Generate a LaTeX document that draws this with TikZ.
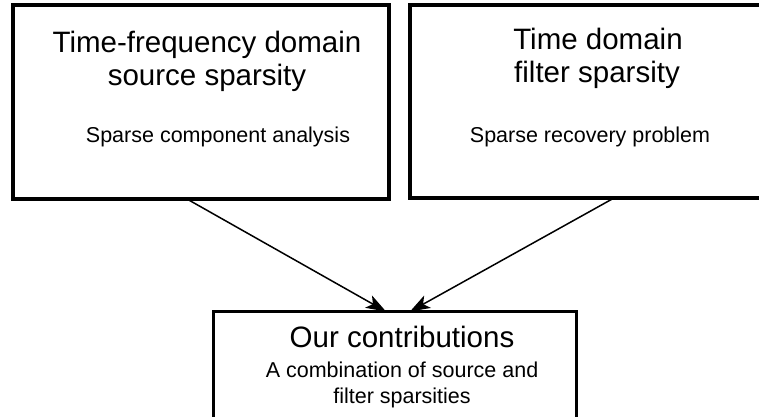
\documentclass[tikz,border=0pt]{standalone}
\usepackage{fontspec}
\setmainfont{Liberation Sans}
\usetikzlibrary{arrows.meta}
\begin{document}
\begin{tikzpicture}[x=1pt,y=-1pt,
  topbox/.style={draw, line width=4pt, inner sep=0pt, outer sep=0pt},
  botbox/.style={draw, line width=3pt, inner sep=0pt, outer sep=0pt},
  titletext/.style={anchor=base, inner sep=0pt, font=\fontsize{29.5}{34}\selectfont},
  subtext/.style={anchor=base, inner sep=0pt, font=\fontsize{21.5}{25}\selectfont},
  conn/.style={line width=1.5pt, -{Stealth[length=20pt,width=14pt,inset=5pt]}}]
\useasboundingbox (0,0) rectangle (759,416);
\clip (0,0) rectangle (759,416);
% boxes
\node[topbox, minimum width=375.5pt, minimum height=194pt] (lbox) at (200.75,102) {};
\node[topbox, minimum width=370pt, minimum height=193pt] (rbox) at (595,101.5) {};
\node[botbox, minimum width=363.5pt, minimum height=113pt] (bbox) at (394.75,368) {};
% texts
\node[titletext] (lt1) at (207,52) {Time-frequency domain};
\node[titletext] (lt2) at (207,85) {source sparsity};
\node[subtext] (ls) at (218,142) {Sparse component analysis};
\node[titletext] (rt1) at (598,49) {Time domain};
\node[titletext] (rt2) at (597,82) {filter sparsity};
\node[subtext] (rs) at (590,142) {Sparse recovery problem};
\node[titletext] (bt) at (402,347) {Our contributions};
\node[subtext] (bs1) at (402,377) {A combination of source and};
\node[subtext] (bs2) at (402,403) {filter sparsities};
% connectors
\draw[conn] ([xshift=-13.75pt]lbox.south) -- ([xshift=-8.75pt]bbox.north);
\draw[conn] ([xshift=19pt]rbox.south) -- ([xshift=15.25pt]bbox.north);
\end{tikzpicture}
\end{document}
